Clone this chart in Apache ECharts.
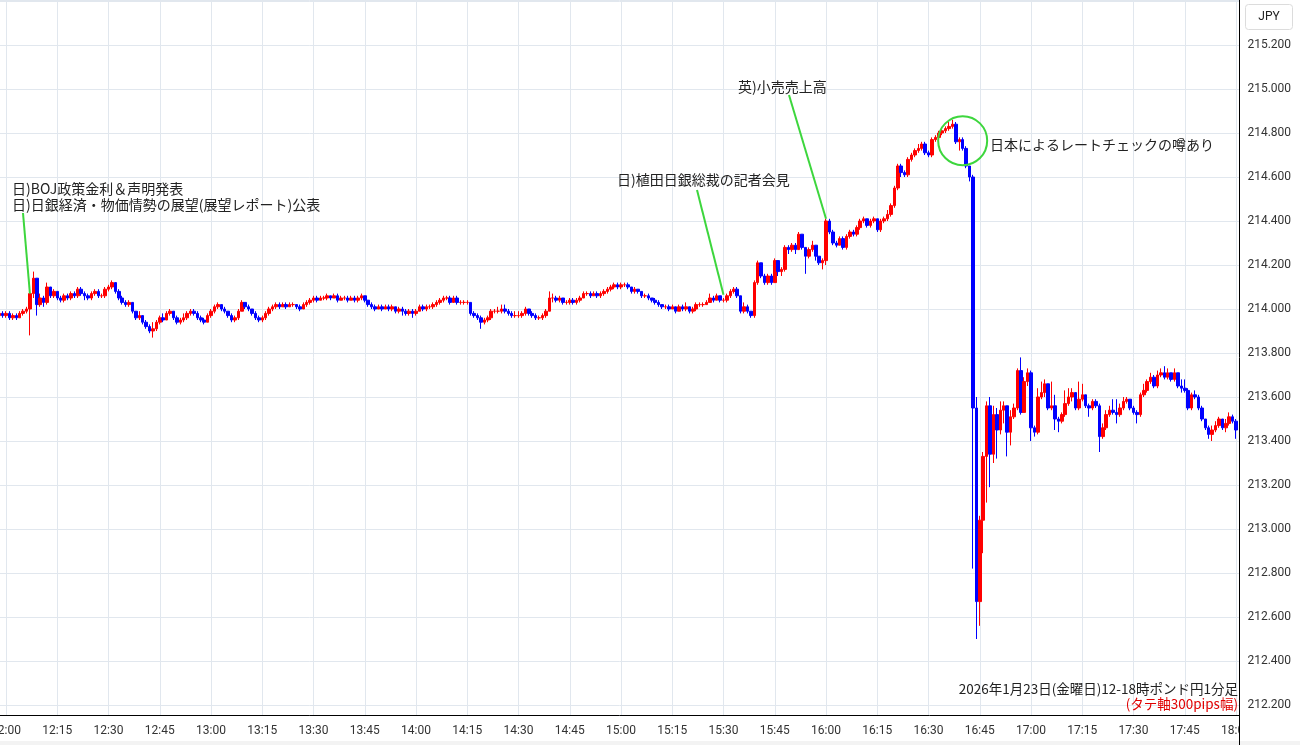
<!DOCTYPE html>
<html>
<head>
<meta charset="utf-8">
<script src="https://cdn.jsdelivr.net/npm/echarts@6/dist/echarts.min.js"></script>
<style>
html, body { margin: 0; padding: 0; background: #fff; }
#main { width: 1300px; height: 745px; }
</style>
</head>
<body>
<div id="main"></div>
<script>
// GBP/JPY 1分足 2026-01-23 12:00-18:00, 値は 214.000 からの pips
var BASE = 214.0;
var START_MIN = 11 * 60 + 58;   // 最初の足 11:58
var OPEN0 = -3;

var closes = [
  -2, -3,
  -2, -4, -3, -4, -2, -1, 0, 7, 14, 2, 5, 3, 10, 6, 8,
  5, 4, 6, 5, 7, 6, 9, 7, 6, 5, 7, 8, 6, 6, 9,
  10, 12, 8, 5, 3, 2, 3, -1, -4, -3, -6, -8, -10, -9, -6,
  -4, -5, -2, -1, -4, -6, -5, -4, -2, -1, -2, -4, -5, -6, -3,
  -1, 1, 2, 0, -1, -3, -5, -4, -1, 3, 1, 0, -2, -4, -5,
  -4, -2, 0, 1, 2, 1, 2, 1, 2, 2, 1, 0, 2, 3, 4,
  5, 4, 5, 5, 6, 5, 6, 4, 5, 5, 4, 5, 4, 5, 6,
  4, 2, 1, 0, 1, 0, 1, 0, 1, -1, 0, -1, -2, -1, -2,
  -1, 1, 0, 1, 1, 2, 3, 4, 5, 5, 3, 5, 3, 3, 3,
  3, -2, -3, -4, -6, -5, -4, -1, -1, -1, 0, -1, -2, -3, -3,
  -3, -2, 0, -2, -3, -4, -4, -3, -1, 5, 5, 4, 5, 3, 3,
  4, 3, 4, 5, 7, 7, 6, 7, 6, 7, 8, 9, 10, 11, 10,
  11, 11, 10, 8, 9, 8, 6, 6, 5, 4, 3, 2, 1, 1, 0,
  1, -1, 1, 0, 1, -1, 0, 2, 2, 2, 3, 5, 4, 6, 4,
  4, 6, 8, 9, 6, -1, 1, -1, -3, 12, 21, 15, 12, 15, 12,
  22, 17, 18, 28, 27, 29, 27, 34, 28, 24, 27, 29, 24, 21, 22,
  40, 35, 30, 29, 32, 28, 33, 35, 34, 37, 40, 41, 38, 40, 41,
  36, 40, 41, 43, 47, 55, 65, 62, 61, 68, 70, 72, 73, 75, 71,
  70, 77, 78, 80, 81, 82, 83, 84, 76, 77, 73, 65, 60, -45, -133,
  -96, -67, -44, -66, -48, -55, -46, -44, -56, -49, -45, -28, -47, -33, -29,
  -54, -56, -40, -38, -34, -45, -44, -50, -51, -48, -43, -40, -38, -45, -41,
  -39, -44, -45, -42, -44, -58, -54, -48, -46, -47, -48, -45, -42, -41, -45,
  -47, -48, -39, -37, -33, -31, -35, -30, -29, -31, -29, -32, -29, -35, -36,
  -37, -45, -39, -40, -45, -50, -54, -57, -55, -53, -50, -54, -52, -49, -51,
  -55
];

var highs = [
  -1, -1,
  -1, -1, -2, -2, -1, 0, 1, 9, 17, 14, 7, 6, 12, 10, 9,
  8, 6, 7, 7, 8, 8, 10, 10, 8, 7, 8, 9, 9, 7, 10,
  11, 13, 12, 9, 6, 4, 4, 3, -1, -1, -3, -5, -7, -6, -5,
  -3, -2, -1, 0, -1, -3, -4, -2, -1, 0, 0, -1, -3, -4, -2,
  0, 2, 3, 2, 1, -1, -2, -3, 0, 4, 3, 2, 0, -1, -3,
  -3, -1, 1, 2, 3, 3, 3, 3, 3, 3, 2, 2, 3, 4, 5,
  6, 6, 6, 6, 7, 6, 7, 7, 6, 6, 6, 6, 6, 6, 7,
  6, 4, 3, 2, 2, 2, 2, 2, 2, 1, 1, 1, 0, 0, 0,
  0, 2, 2, 2, 2, 3, 4, 5, 6, 6, 6, 6, 6, 4, 4,
  4, 3, -1, -2, -3, -4, -3, 0, 0, 1, 2, 2, 0, -1, -1,
  -1, -1, 1, 0, -1, -2, -3, -2, 0, 8, 7, 6, 6, 5, 4,
  5, 5, 5, 6, 8, 8, 8, 8, 8, 8, 9, 10, 11, 12, 12,
  12, 12, 12, 10, 10, 9, 8, 7, 7, 5, 5, 4, 2, 2, 2,
  2, 1, 2, 2, 3, 1, 1, 3, 3, 3, 4, 7, 6, 7, 6,
  5, 7, 9, 10, 10, 6, 3, 2, -1, 13, 22, 21, 16, 16, 16,
  23, 22, 19, 29, 29, 30, 30, 35, 34, 28, 28, 31, 29, 24, 23,
  41, 41, 36, 31, 33, 33, 34, 36, 36, 38, 41, 42, 41, 41, 42,
  41, 41, 42, 45, 48, 56, 66, 66, 63, 69, 71, 73, 75, 76, 76,
  72, 78, 79, 81, 82, 83, 85, 86, 85, 78, 78, 74, 65, 61, -40,
  -94, -65, -42, -40, -44, -45, -42, -42, -44, -46, -43, -27, -22, -31, -27,
  -28, -53, -36, -33, -32, -34, -33, -39, -49, -47, -37, -36, -36, -38, -33,
  -34, -39, -43, -41, -41, -43, -52, -46, -44, -41, -41, -43, -40, -40, -41,
  -44, -46, -38, -34, -32, -29, -30, -28, -27, -26, -27, -29, -27, -29, -32,
  -32, -36, -38, -37, -39, -44, -50, -53, -53, -51, -49, -50, -50, -47, -48,
  -50
];

var lows = [
  -3, -4,
  -4, -5, -5, -5, -4, -3, -2, -12, 5, -3, 1, 1, 2, 5, 5,
  4, 3, 3, 4, 4, 5, 5, 6, 4, 4, 4, 6, 5, 5, 5,
  8, 9, 7, 4, 2, 1, 1, -2, -5, -5, -7, -9, -11, -13, -10,
  -7, -6, -5, -3, -5, -7, -7, -6, -5, -3, -3, -5, -6, -7, -6,
  -4, -2, 0, -1, -2, -4, -6, -6, -5, -1, 0, -1, -3, -5, -6,
  -6, -5, -3, -1, 0, 0, 1, 0, 1, 1, 0, -1, 0, 1, 2,
  3, 3, 4, 4, 4, 4, 5, 3, 4, 4, 3, 4, 3, 3, 4,
  3, 1, 0, -1, 0, -1, 0, -1, -1, -2, -2, -3, -3, -3, -4,
  -3, -1, -1, -1, 0, 0, 1, 2, 3, 4, 2, 3, 2, 2, 2,
  2, -3, -4, -5, -9, -7, -6, -5, -2, -2, -2, -2, -3, -4, -4,
  -4, -4, -3, -3, -4, -5, -5, -5, -4, -1, 3, 3, 3, 2, 2,
  2, 2, 2, 3, 5, 6, 5, 6, 5, 5, 6, 7, 8, 9, 9,
  9, 10, 9, 7, 7, 7, 5, 5, 4, 3, 2, 1, 0, 0, -1,
  0, -2, -1, -1, -1, -2, -2, -1, 1, 1, 2, 3, 3, 4, 3,
  3, 3, 5, 7, 5, -2, -2, -2, -4, -4, 11, 14, 11, 11, 11,
  12, 15, 15, 17, 25, 26, 25, 27, 27, 16, 23, 26, 22, 20, 18,
  20, 34, 29, 28, 29, 27, 27, 32, 33, 33, 36, 39, 37, 37, 39,
  35, 35, 39, 40, 42, 46, 54, 60, 60, 60, 67, 69, 71, 72, 70,
  69, 69, 76, 77, 79, 80, 81, 82, 75, 72, 72, 64, 58, -118, -150,
  -144, -111, -88, -81, -70, -68, -57, -52, -67, -62, -50, -46, -48, -47, -35,
  -60, -58, -57, -41, -40, -46, -46, -55, -56, -52, -49, -44, -42, -46, -46,
  -42, -45, -49, -46, -45, -65, -59, -55, -49, -48, -52, -49, -46, -43, -46,
  -48, -52, -49, -40, -38, -34, -36, -36, -31, -32, -32, -33, -33, -36, -38,
  -38, -46, -46, -41, -46, -51, -55, -59, -60, -56, -54, -55, -56, -53, -52,
  -59
];

// 時刻カテゴリ 11:58 - 18:01
var times = [];
for (var i = 0; i < 364; i++) {
  var t = START_MIN + i;
  times.push(String(Math.floor(t / 60)).padStart(2, '0') + ':' + String(t % 60).padStart(2, '0'));
}

var candles = times.map(function (t, i) {
  if (i >= closes.length) return '-';
  var o = i === 0 ? OPEN0 : closes[i - 1];
  var c = closes[i];
  var h = Math.max(highs[i], o, c);
  var l = Math.min(lows[i], o, c);
  return [BASE + o / 100, BASE + c / 100, BASE + l / 100, BASE + h / 100];
});

var onQuarter = function (idx, val) { return Number(val.slice(3)) % 15 === 0; };
var GRID = '#e1e7ee';
var GREEN = '#3dd63d';
var JP = '"Noto Sans CJK JP", sans-serif';

var chart = echarts.init(document.getElementById('main'));
chart.setOption({
  animation: false,
  backgroundColor: '#fff',
  grid: { left: -0.83, top: 0, width: 1240.25, height: 715, containLabel: false, outerBoundsMode: 'none' },
  xAxis: {
    type: 'category',
    data: times,
    boundaryGap: false,
    axisLine: { lineStyle: { color: '#000', width: 1 } },
    axisTick: { show: false },
    axisLabel: { interval: onQuarter, color: '#333', fontSize: 12, margin: 10, fontFamily: 'Roboto, sans-serif', hideOverlap: false },
    splitLine: { show: true, interval: onQuarter, lineStyle: { color: GRID } }
  },
  yAxis: {
    type: 'value',
    position: 'right',
    min: 212.2 - 10 / 220,
    max: 215.2 + 45 / 220,
    minInterval: 0.2,
    maxInterval: 0.2,
    axisLine: { show: true, lineStyle: { color: '#000' } },
    axisTick: { show: false },
    axisLabel: {
      color: '#333', fontSize: 12, margin: 8, fontFamily: 'Roboto, sans-serif',
      showMinLabel: false, showMaxLabel: false,
      formatter: function (v) { return v > 215.3 ? '' : v.toFixed(3); }
    },
    splitLine: { show: true, lineStyle: { color: GRID } }
  },
  series: [{
    type: 'candlestick',
    data: candles,
    barWidth: 3,
    itemStyle: {
      color: '#ff0000', color0: '#0000ff',
      borderColor: '#ff0000', borderColor0: '#0000ff', borderWidth: 1
    }
  }]
});

function px(t, p) { return chart.convertToPixel({ gridIndex: 0 }, [t, p]); }

var g = [];
// 注記の線 (上端はテキスト側, 下端は足に合わせる)
var leaders = [
  { from: [23, 213], at: ['12:07', 214.07] },
  { from: [697, 190], at: ['15:30', 214.065] },
  { from: [789, 95], at: ['16:00', 214.41] }
];
leaders.forEach(function (d) {
  var p = px(d.at[0], d.at[1]);
  g.push({ type: 'line', z: 100, shape: { x1: d.from[0], y1: d.from[1], x2: p[0], y2: p[1] },
    style: { stroke: GREEN, lineWidth: 2 } });
});
var cc = px('16:40', 214.765);
g.push({ type: 'circle', z: 100, shape: { cx: cc[0], cy: cc[1], r: 24.5 },
  style: { fill: null, stroke: GREEN, lineWidth: 2 } });

var notes = [
  ['日)BOJ政策金利＆声明発表', 12, 189],
  ['日)日銀経済・物価情勢の展望(展望レポート)公表', 12, 205],
  ['日)植田日銀総裁の記者会見', 617, 180],
  ['英)小売売上高', 738, 87],
  ['日本によるレートチェックの噂あり', 990, 145]
];
notes.forEach(function (n) {
  g.push({ type: 'text', z: 100, x: n[1], y: n[2],
    style: { text: n[0], fill: '#222', font: '14px ' + JP, align: 'left', verticalAlign: 'middle' } });
});
g.push({ type: 'text', z: 100, x: 1238, y: 689,
  style: { text: '2026年1月23日(金曜日)12-18時ポンド円1分足', fill: '#222', font: '13.5px ' + JP, align: 'right', verticalAlign: 'middle' } });
g.push({ type: 'text', z: 100, x: 1238, y: 704,
  style: { text: '(タテ軸300pips幅)', fill: '#e00000', font: '13.5px ' + JP, align: 'right', verticalAlign: 'middle' } });

// 右側の価格欄
g.push({ type: 'rect', z: 90, shape: { x: 1240, y: 716, width: 60, height: 29 }, style: { fill: '#fff' } });
g.push({ type: 'rect', z: 91, shape: { x: 0, y: 741, width: 1300, height: 4 }, style: { fill: '#f3f3f3' } });
g.push({ type: 'line', z: 95, shape: { x1: 1239.5, y1: 715, x2: 1239.5, y2: 745 }, style: { stroke: '#000', lineWidth: 1 } });
g.push({ type: 'rect', z: 95, shape: { x: 1245.5, y: 4.5, width: 47, height: 25, r: 3 },
  style: { fill: '#fff', stroke: '#dcdcdc', lineWidth: 1 } });
g.push({ type: 'text', z: 96, x: 1269, y: 17,
  style: { text: 'JPY', fill: '#222', font: '12px Roboto, sans-serif', align: 'center', verticalAlign: 'middle' } });

chart.setOption({ graphic: g });
</script>
</body>
</html>
